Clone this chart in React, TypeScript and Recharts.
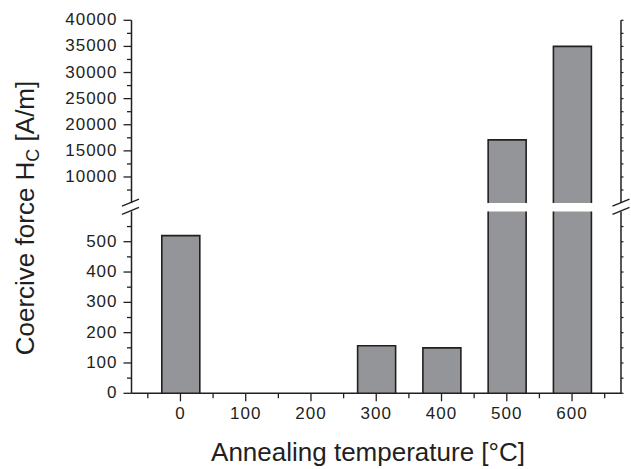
import React from 'react';
import { BarChart, Bar, XAxis, YAxis } from 'recharts';

// ---------- data ----------
const temperatures = [0, 100, 200, 300, 400, 500, 600];
const coerciveForce: (number | null)[] = [520, null, null, 157, 150, 17100, 35000];

const xMajorTicks = [0, 100, 200, 300, 400, 500, 600];
const xMinorTicks = [-50, 50, 150, 250, 350, 450, 550, 650];
const lowerMajorTicks = [0, 100, 200, 300, 400, 500];
const lowerMinorTicks = [50, 150, 250, 350, 450, 550];
const upperMajorTicks = [10000, 15000, 20000, 25000, 30000, 35000, 40000];
const upperMinorTicks = [7500, 12500, 17500, 22500, 27500, 32500, 37500];
const lowerRange: [number, number] = [0, 600];
const upperRange: [number, number] = [5000, 40000];
const xRange: [number, number] = [-75, 675];

const xTitle = 'Annealing temperature [°C]';
const yTitleMain = 'Coercive force H';
const yTitleSub = 'C';
const yTitleUnit = ' [A/m]';

const data = temperatures.map((t, i) => {
  const v = coerciveForce[i];
  return {
    t,
    lower: v,
    upper: v != null && v > upperRange[0] ? v : null,
  };
});

// ---------- layout / style ----------
const W = 631;
const H = 469;
const plotLeft = 131.5;
const plotRight = 621;
const upperTop = 20.3;
const upperBottom = 203.1;
const lowerTop = 211.4;
const lowerBottom = 393.3;
const INK = '#231f20';
const FILL = '#939598';
const FONT = '"Liberation Sans", Arial, Helvetica, sans-serif';
const TICK_FONT = 17;
const sortNum = (a: number[]) => [...a].sort((p, q) => p - q);

const BarShape = (props: any) => {
  const { x, y, width, height } = props;
  if (height == null || !isFinite(height) || Math.abs(height) < 0.01) return null;
  const top = Math.min(y, y + height);
  const bottom = Math.max(y, y + height);
  return (
    <g>
      <rect x={x} y={top} width={width} height={bottom - top} fill={FILL} />
      <path
        d={`M${x},${bottom} L${x},${top} L${x + width},${top} L${x + width},${bottom}`}
        fill="none"
        stroke={INK}
        strokeWidth={1.6}
      />
    </g>
  );
};

const makeLeftTick = (majors: number[]) => (props: any) => {
  const { x, y, payload } = props;
  const major = majors.includes(payload.value);
  return (
    <g>
      <line x1={x} x2={x - (major ? 8 : 4.5)} y1={y} y2={y} stroke={INK} strokeWidth={1.3} />
      {major && (
        <text
          x={x - 14}
          y={y + 5}
          textAnchor="end"
          fontFamily={FONT}
          fontSize={TICK_FONT}
          letterSpacing={1}
          fill={INK}
        >
          {payload.value}
        </text>
      )}
    </g>
  );
};

const RightTick = (props: any) => {
  const { x, y } = props;
  return <line x1={x} x2={x + 2.5} y1={y} y2={y} stroke={INK} strokeWidth={1.2} />;
};

const TopTick = (props: any) => {
  const { x, y } = props;
  return <line x1={x} x2={x} y1={y} y2={y + 2.5} stroke={INK} strokeWidth={1.2} />;
};

const BottomTick = (props: any) => {
  const { x, y, payload } = props;
  const major = xMajorTicks.includes(payload.value);
  return (
    <g>
      <line x1={x} x2={x} y1={y} y2={y + (major ? 8 : 5)} stroke={INK} strokeWidth={1.3} />
      {major && (
        <text
          x={x}
          y={y + 26}
          textAnchor="middle"
          fontFamily={FONT}
          fontSize={TICK_FONT}
          letterSpacing={1}
          fill={INK}
        >
          {payload.value}
        </text>
      )}
    </g>
  );
};

const allXTicks = sortNum([...xMajorTicks, ...xMinorTicks]);
const lowerTicks = sortNum([...lowerMajorTicks, ...lowerMinorTicks]);
const upperTicks = sortNum([...upperMajorTicks, ...upperMinorTicks]);

const BreakMark = ({ cx, cy }: { cx: number; cy: number }) => (
  <line x1={cx - 8.5} y1={cy + 3.5} x2={cx + 8.5} y2={cy - 3.5} stroke={INK} strokeWidth={1.4} />
);

export default function App() {
  const axisLine = { stroke: INK, strokeWidth: 1.5 };
  return (
    <div style={{ position: 'absolute', left: 0, top: 0, width: W, height: H, background: '#fff' }}>
      {/* lower segment */}
      <div style={{ position: 'absolute', left: 0, top: 0 }}>
        <BarChart
          width={W}
          height={H}
          data={data}
          margin={{ top: lowerTop, right: 0, bottom: 0, left: 0 }}
        >
          <XAxis
            type="number"
            dataKey="t"
            domain={xRange}
            ticks={allXTicks}
            interval={0}
            height={H - lowerBottom}
            tickSize={0}
            tickMargin={0}
            tickLine={false}
            axisLine={axisLine}
            tick={BottomTick}
            allowDataOverflow
          />
          <YAxis
            yAxisId="left"
            type="number"
            domain={lowerRange}
            ticks={lowerTicks}
            interval={0}
            width={plotLeft}
            tickSize={0}
            tickMargin={0}
            tickLine={false}
            axisLine={axisLine}
            tick={makeLeftTick(lowerMajorTicks)}
            allowDataOverflow
          />
          <YAxis
            yAxisId="right"
            orientation="right"
            type="number"
            domain={lowerRange}
            ticks={lowerTicks}
            interval={0}
            width={W - plotRight}
            tickSize={0}
            tickMargin={0}
            tickLine={false}
            axisLine={axisLine}
            tick={RightTick}
            allowDataOverflow
          />
          <Bar
            yAxisId="left"
            dataKey="lower"
            barSize={38}
            shape={BarShape}
            isAnimationActive={false}
          />
        </BarChart>
      </div>
      {/* upper segment */}
      <div style={{ position: 'absolute', left: 0, top: 0 }}>
        <BarChart
          width={W}
          height={upperBottom}
          data={data}
          margin={{ top: upperTop, right: 0, bottom: 0, left: 0 }}
        >
          <XAxis
            type="number"
            dataKey="t"
            orientation="top"
            domain={xRange}
            ticks={allXTicks}
            interval={0}
            height={0}
            tickSize={0}
            tickMargin={0}
            tickLine={false}
            axisLine={axisLine}
            tick={TopTick}
            allowDataOverflow
          />
          <YAxis
            yAxisId="left"
            type="number"
            domain={upperRange}
            ticks={upperTicks}
            interval={0}
            width={plotLeft}
            tickSize={0}
            tickMargin={0}
            tickLine={false}
            axisLine={axisLine}
            tick={makeLeftTick(upperMajorTicks)}
            allowDataOverflow
          />
          <YAxis
            yAxisId="right"
            orientation="right"
            type="number"
            domain={upperRange}
            ticks={upperTicks}
            interval={0}
            width={W - plotRight}
            tickSize={0}
            tickMargin={0}
            tickLine={false}
            axisLine={axisLine}
            tick={RightTick}
            allowDataOverflow
          />
          <Bar
            yAxisId="left"
            dataKey="upper"
            barSize={38}
            shape={BarShape}
            isAnimationActive={false}
          />
        </BarChart>
      </div>
      {/* overlay: axis breaks and titles */}
      <svg
        width={W}
        height={H}
        style={{ position: 'absolute', left: 0, top: 0, pointerEvents: 'none' }}
      >
        <BreakMark cx={plotLeft - 1} cy={upperBottom - 0.5} />
        <BreakMark cx={plotLeft - 1} cy={lowerTop - 0.5} />
        <BreakMark cx={plotRight} cy={upperBottom - 0.5} />
        <BreakMark cx={plotRight} cy={lowerTop - 0.5} />
        <text
          x={368}
          y={461}
          textAnchor="middle"
          fontFamily={FONT}
          fontSize={26}
          fill={INK}
        >
          {xTitle}
        </text>
        <text
          x={34}
          y={218}
          textAnchor="middle"
          fontFamily={FONT}
          fontSize={26}
          fill={INK}
          transform="rotate(-90 34 218)"
        >
          {yTitleMain}
          <tspan fontSize={18} dy={5}>{yTitleSub}</tspan>
          <tspan dy={-5}>{yTitleUnit}</tspan>
        </text>
      </svg>
    </div>
  );
}
